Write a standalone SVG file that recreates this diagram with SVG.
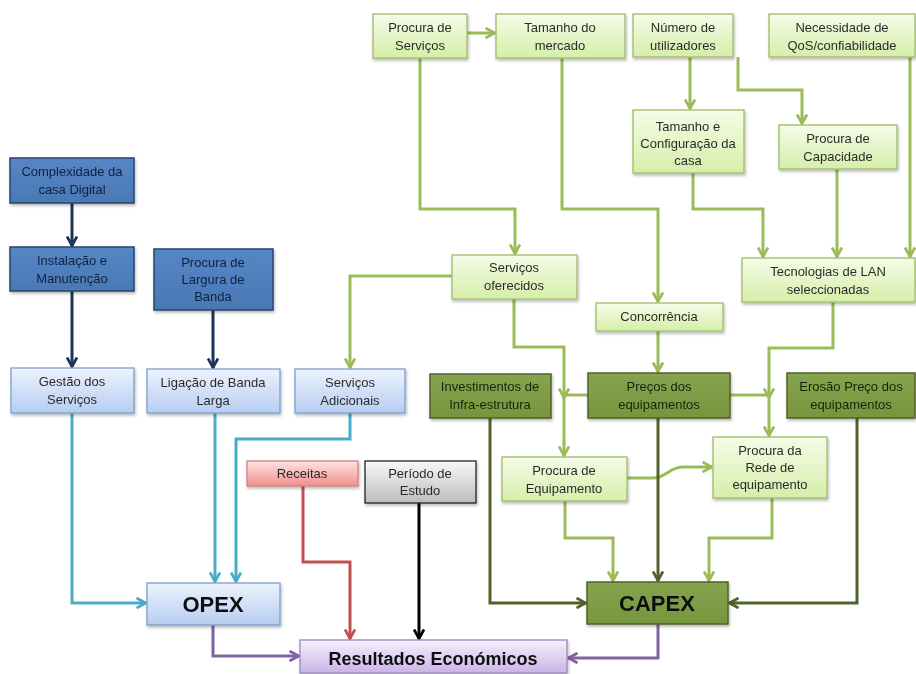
<svg xmlns="http://www.w3.org/2000/svg" width="916" height="674" viewBox="0 0 916 674">
<defs>
<style>
.t{font-family:"Liberation Sans",Arial,sans-serif;font-size:13px;text-anchor:middle;fill:#2b2b2b}
.tb{font-family:"Liberation Sans",Arial,sans-serif;font-weight:bold;text-anchor:middle;fill:#111}
.tn{fill:#0f2240}
.td{fill:#17230a}
.lg{fill:url(#gLG);stroke:#a3c070;stroke-width:1.4}
.dg{fill:url(#gDG);stroke:#4f6228;stroke-width:1.5}
.bl{fill:url(#gBL);stroke:#24446e;stroke-width:1.5}
.lb{fill:url(#gLB);stroke:#7d9fce;stroke-width:1.3}
.rd{fill:url(#gRD);stroke:#d08481;stroke-width:1.3}
.gy{fill:url(#gGY);stroke:#222;stroke-width:1.3}
.pu{fill:url(#gPU);stroke:#9a86bd;stroke-width:1.3}
.box{filter:url(#sh)}
.c{fill:none;stroke-width:3;stroke-linejoin:miter}
.cg{stroke:#9bbb59;marker-end:url(#aG)}
.co{stroke:#4f6228;marker-end:url(#aO)}
.cn{stroke:#1c3557;marker-end:url(#aN)}
.ct{stroke:#4bacc6;marker-end:url(#aT)}
.cr{stroke:#c0504d;marker-end:url(#aR)}
.ck{stroke:#000;marker-end:url(#aK)}
.cp{stroke:#8064a2;marker-end:url(#aP)}
</style>
<linearGradient id="gLG" x1="0" y1="0" x2="0" y2="1"><stop offset="0" stop-color="#f5fce8"/><stop offset="1" stop-color="#d6eea9"/></linearGradient>
<linearGradient id="gDG" x1="0" y1="0" x2="0" y2="1"><stop offset="0" stop-color="#86a44f"/><stop offset="1" stop-color="#77953d"/></linearGradient>
<linearGradient id="gBL" x1="0" y1="0" x2="0" y2="1"><stop offset="0" stop-color="#5686c4"/><stop offset="1" stop-color="#4a78b5"/></linearGradient>
<linearGradient id="gLB" x1="0" y1="0" x2="0" y2="1"><stop offset="0" stop-color="#edf3fd"/><stop offset="1" stop-color="#b6cdf1"/></linearGradient>
<linearGradient id="gRD" x1="0" y1="0" x2="0" y2="1"><stop offset="0" stop-color="#fde3e1"/><stop offset="1" stop-color="#f0908d"/></linearGradient>
<linearGradient id="gGY" x1="0" y1="0" x2="0" y2="1"><stop offset="0" stop-color="#f8f8f8"/><stop offset="1" stop-color="#bcbcbc"/></linearGradient>
<linearGradient id="gPU" x1="0" y1="0" x2="0" y2="1"><stop offset="0" stop-color="#f7f0fc"/><stop offset="1" stop-color="#cab4e7"/></linearGradient>
<filter id="sh" x="-10%" y="-10%" width="130%" height="140%"><feDropShadow dx="1" dy="2" stdDeviation="1.5" flood-color="#000" flood-opacity="0.28"/></filter>
<marker id="aG" viewBox="0 0 12 12" refX="10.5" refY="6" markerWidth="12" markerHeight="12" markerUnits="userSpaceOnUse" orient="auto"><path d="M1,1 L10,6 L1,11" fill="none" stroke="#9bbb59" stroke-width="2.8"/></marker>
<marker id="aO" viewBox="0 0 12 12" refX="10.5" refY="6" markerWidth="12" markerHeight="12" markerUnits="userSpaceOnUse" orient="auto"><path d="M1,1 L10,6 L1,11" fill="none" stroke="#4f6228" stroke-width="2.8"/></marker>
<marker id="aN" viewBox="0 0 12 12" refX="10.5" refY="6" markerWidth="12" markerHeight="12" markerUnits="userSpaceOnUse" orient="auto"><path d="M1,1 L10,6 L1,11" fill="none" stroke="#1c3557" stroke-width="2.8"/></marker>
<marker id="aT" viewBox="0 0 12 12" refX="10.5" refY="6" markerWidth="12" markerHeight="12" markerUnits="userSpaceOnUse" orient="auto"><path d="M1,1 L10,6 L1,11" fill="none" stroke="#4bacc6" stroke-width="2.8"/></marker>
<marker id="aR" viewBox="0 0 12 12" refX="10.5" refY="6" markerWidth="12" markerHeight="12" markerUnits="userSpaceOnUse" orient="auto"><path d="M1,1 L10,6 L1,11" fill="none" stroke="#c0504d" stroke-width="2.8"/></marker>
<marker id="aK" viewBox="0 0 12 12" refX="10.5" refY="6" markerWidth="12" markerHeight="12" markerUnits="userSpaceOnUse" orient="auto"><path d="M1,1 L10,6 L1,11" fill="none" stroke="#000" stroke-width="2.8"/></marker>
<marker id="aP" viewBox="0 0 12 12" refX="10.5" refY="6" markerWidth="12" markerHeight="12" markerUnits="userSpaceOnUse" orient="auto"><path d="M1,1 L10,6 L1,11" fill="none" stroke="#8064a2" stroke-width="2.8"/></marker>
</defs>
<rect width="916" height="674" fill="#fff"/>

<g id="connectors">
<path class="c cg" d="M467,33 H495"/>
<path class="c cg" d="M420,58 V209 H515 V254"/>
<path class="c cg" d="M562,58 V209 H658 V302"/>
<path class="c cg" d="M690,57 V109"/>
<path class="c cg" d="M738,57 V90 H802 V124"/>
<path class="c cg" d="M693,173 V209 H763 V257"/>
<path class="c cg" d="M837,169 V257"/>
<path class="c cg" d="M910,57 V257"/>
<path class="c cg" d="M452,276 H350 V368"/>
<path class="c cg" d="M514,299 V347 H564 V456"/>
<path class="c cg" d="M588,395 H564 V398"/>
<path class="c cg" d="M730,395 H769 V398"/>
<path class="c cg" d="M658,331 V372"/>
<path class="c cg" d="M833,302 V348 H769 V436"/>
<path class="c cg" d="M627,478 H652 C667,478 668,467 684,467 H712"/>
<path class="c cg" d="M565,501 V538 H613 V581"/>
<path class="c cg" d="M772,498 V538 H709 V581"/>
<path class="c co" d="M490,418 V603 H586"/>
<path class="c co" d="M658,418 V581"/>
<path class="c co" d="M857,418 V603 H729"/>
<path class="c cp" d="M658,624 V658 H568"/>
<path class="c cp" d="M213,625 V656 H299"/>
<path class="c cn" d="M72,203 V246"/>
<path class="c cn" d="M72,291 V367"/>
<path class="c cn" d="M213,310 V368"/>
<path class="c ct" d="M72,413 V603 H146"/>
<path class="c ct" d="M215,413 V582"/>
<path class="c ct" d="M350,413 V439 H236 V582"/>
<path class="c cr" d="M303,486 V562 H350 V639"/>
<path class="c ck" d="M419,503 V639"/>
</g>

<g id="n_procura_servicos" class="box"><rect class="lg" x="373" y="14" width="94" height="44"/><text class="t" x="420" y="32">Procura de</text><text class="t" x="420" y="50">Serviços</text></g>
<g id="n_tamanho_mercado" class="box"><rect class="lg" x="496" y="14" width="129" height="44"/><text class="t" x="560" y="32">Tamanho do</text><text class="t" x="560" y="50">mercado</text></g>
<g id="n_numero_utilizadores" class="box"><rect class="lg" x="633" y="14" width="100" height="43"/><text class="t" x="683" y="32">Número de</text><text class="t" x="683" y="50">utilizadores</text></g>
<g id="n_necessidade_qos" class="box"><rect class="lg" x="769" y="14" width="146" height="43"/><text class="t" x="842" y="32">Necessidade de</text><text class="t" x="842" y="50">QoS/confiabilidade</text></g>
<g id="n_tamanho_config" class="box"><rect class="lg" x="633" y="110" width="111" height="63"/><text class="t" x="688" y="131">Tamanho e</text><text class="t" x="688" y="148">Configuração da</text><text class="t" x="688" y="165">casa</text></g>
<g id="n_procura_capacidade" class="box"><rect class="lg" x="779" y="125" width="118" height="44"/><text class="t" x="838" y="143">Procura de</text><text class="t" x="838" y="161">Capacidade</text></g>
<g id="n_servicos_oferecidos" class="box"><rect class="lg" x="452" y="255" width="125" height="44"/><text class="t" x="514" y="272">Serviços</text><text class="t" x="514" y="290">oferecidos</text></g>
<g id="n_concorrencia" class="box"><rect class="lg" x="596" y="303" width="127" height="28"/><text class="t" x="659" y="321">Concorrência</text></g>
<g id="n_tecnologias_lan" class="box"><rect class="lg" x="742" y="258" width="173" height="44"/><text class="t" x="828" y="276">Tecnologias de LAN</text><text class="t" x="828" y="294">seleccionadas</text></g>
<g id="n_investimentos" class="box"><rect class="dg" x="430" y="374" width="121" height="44"/><text class="t td" x="490" y="391">Investimentos de</text><text class="t td" x="490" y="409">Infra-estrutura</text></g>
<g id="n_precos" class="box"><rect class="dg" x="588" y="373" width="142" height="45"/><text class="t td" x="659" y="391">Preços dos</text><text class="t td" x="659" y="409">equipamentos</text></g>
<g id="n_erosao" class="box"><rect class="dg" x="787" y="373" width="128" height="45"/><text class="t td" x="851" y="391">Erosão Preço dos</text><text class="t td" x="851" y="409">equipamentos</text></g>
<g id="n_procura_equipamento" class="box"><rect class="lg" x="502" y="457" width="125" height="44"/><text class="t" x="564" y="475">Procura de</text><text class="t" x="564" y="493">Equipamento</text></g>
<g id="n_procura_rede" class="box"><rect class="lg" x="713" y="437" width="114" height="61"/><text class="t" x="770" y="455">Procura da</text><text class="t" x="770" y="472">Rede de</text><text class="t" x="770" y="489">equipamento</text></g>
<g id="n_capex" class="box"><rect class="dg" x="587" y="582" width="141" height="42"/><text class="tb" x="657" y="611" font-size="22">CAPEX</text></g>
<g id="n_complexidade" class="box"><rect class="bl" x="10" y="158" width="124" height="45"/><text class="t tn" x="72" y="176">Complexidade da</text><text class="t tn" x="72" y="194">casa Digital</text></g>
<g id="n_instalacao" class="box"><rect class="bl" x="10" y="247" width="124" height="44"/><text class="t tn" x="72" y="265">Instalação e</text><text class="t tn" x="72" y="283">Manutenção</text></g>
<g id="n_procura_largura" class="box"><rect class="bl" x="154" y="249" width="119" height="61"/><text class="t tn" x="213" y="267">Procura de</text><text class="t tn" x="213" y="284">Largura de</text><text class="t tn" x="213" y="301">Banda</text></g>
<g id="n_gestao_servicos" class="box"><rect class="lb" x="11" y="368" width="123" height="45"/><text class="t" x="72" y="386">Gestão dos</text><text class="t" x="72" y="404">Serviços</text></g>
<g id="n_ligacao_banda" class="box"><rect class="lb" x="147" y="369" width="133" height="44"/><text class="t" x="213" y="387">Ligação de Banda</text><text class="t" x="213" y="405">Larga</text></g>
<g id="n_servicos_adicionais" class="box"><rect class="lb" x="295" y="369" width="110" height="44"/><text class="t" x="350" y="387">Serviços</text><text class="t" x="350" y="405">Adicionais</text></g>
<g id="n_opex" class="box"><rect class="lb" x="147" y="583" width="133" height="42"/><text class="tb" x="213" y="612" font-size="22">OPEX</text></g>
<g id="n_receitas" class="box"><rect class="rd" x="247" y="461" width="111" height="25"/><text class="t" x="302" y="478">Receitas</text></g>
<g id="n_periodo" class="box"><rect class="gy" x="365" y="461" width="111" height="42"/><text class="t" x="420" y="478">Período de</text><text class="t" x="420" y="495">Estudo</text></g>
<g id="n_resultados" class="box"><rect class="pu" x="300" y="640" width="267" height="33"/><text class="tb" x="433" y="665" font-size="18">Resultados Económicos</text></g>
</svg>
